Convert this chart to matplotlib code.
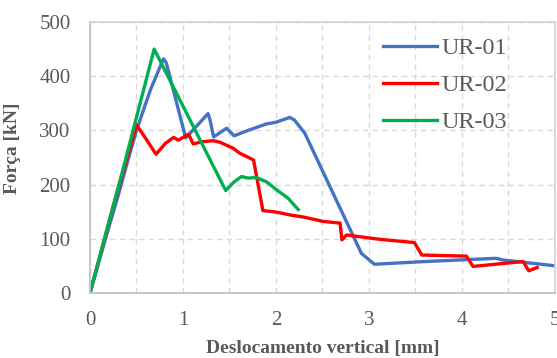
import matplotlib
matplotlib.use("Agg")
import matplotlib.pyplot as plt
from matplotlib.ticker import MultipleLocator

ur01_x = [0, 0.10, 0.20, 0.30, 0.40, 0.50, 0.65, 0.79, 0.82, 1.03, 1.27, 1.29, 1.33, 1.47, 1.55,
          1.70, 1.90, 2.00, 2.15, 2.20, 2.31, 2.92, 3.06, 3.60, 4.37, 4.44, 5.01]
ur01_y = [0, 60, 120, 178, 240, 300, 375, 432, 425, 286, 331, 320, 288, 304, 290,
          300, 312, 315, 324, 319, 295, 73, 53, 58, 64, 61, 50]

ur02_x = [0, 0.25, 0.50, 0.60, 0.71, 0.81, 0.90, 0.95, 1.06, 1.11, 1.20, 1.33, 1.40, 1.54, 1.61,
          1.73, 1.76, 1.86, 1.97, 2.04, 2.15, 2.30, 2.51, 2.69, 2.71, 2.76, 3.12, 3.49, 3.57,
          4.05, 4.12, 4.66, 4.72, 4.81]
ur02_y = [0, 160, 310, 285, 256, 276, 287, 282, 293, 275, 279, 281, 278, 267, 258,
          248, 245, 152, 150, 148, 144, 140, 132, 129, 98, 107, 99, 93, 70,
          68, 49, 58, 41, 47]

ur03_x = [0, 0.35, 0.69, 1.00, 1.20, 1.46, 1.55, 1.63, 1.70, 1.79, 1.90, 2.01, 2.13, 2.24]
ur03_y = [0, 225, 450, 345, 277, 189, 205, 215, 212, 213, 205, 190, 175, 154]

series = [("UR-01", ur01_x, ur01_y, "#4472C4"),
          ("UR-02", ur02_x, ur02_y, "#FF0000"),
          ("UR-03", ur03_x, ur03_y, "#00B050")]

plt.rcParams['font.family'] = ['Liberation Serif', 'DejaVu Serif']
fig = plt.figure(figsize=(5.57, 3.58), dpi=100)
ax = fig.add_axes([0.1616, 0.1816, 0.8344, 0.7569])

for name, xs, ys, c in series:
    ax.plot(xs, ys, color=c, lw=2.4, label=name, solid_joinstyle='round')

ax.set_xlim(0, 5)
ax.set_ylim(0, 500)
ax.xaxis.set_major_locator(MultipleLocator(1))
ax.xaxis.set_minor_locator(MultipleLocator(0.5))
ax.yaxis.set_major_locator(MultipleLocator(100))
ax.grid(True, which='both', axis='x', color='#D9D9D9', ls=(0, (4, 3)), lw=1)
ax.grid(True, which='major', axis='y', color='#D9D9D9', ls=(0, (4, 3)), lw=1)
ax.set_axisbelow(True)
ax.tick_params(which='both', length=0, labelsize=15, colors='#595959')
ax.tick_params(axis='x', pad=13)
ax.tick_params(axis='y', pad=14)
for s in ax.spines.values():
    s.set_color('#D0D0D0')
    s.set_linewidth(1.2)
ax.spines['left'].set_color('#BFBFBF')
ax.spines['bottom'].set_color('#BFBFBF')

ax.set_xlabel("Deslocamento vertical [mm]", fontsize=14, fontweight='bold', color='#595959', labelpad=7)
ax.set_ylabel("Força [kN]", fontsize=14, fontweight='bold', color='#595959', labelpad=5)
ax.yaxis.set_label_coords(-0.148, 0.535)

leg = ax.legend(loc='upper left', bbox_to_anchor=(0.630, 0.944), frameon=False, fontsize=17.5,
                handlelength=2.22, labelspacing=0.62, handletextpad=0.2, borderaxespad=0,
                borderpad=0)
for t in leg.get_texts():
    t.set_color('#595959')

fig.savefig("out.png", dpi=100)
